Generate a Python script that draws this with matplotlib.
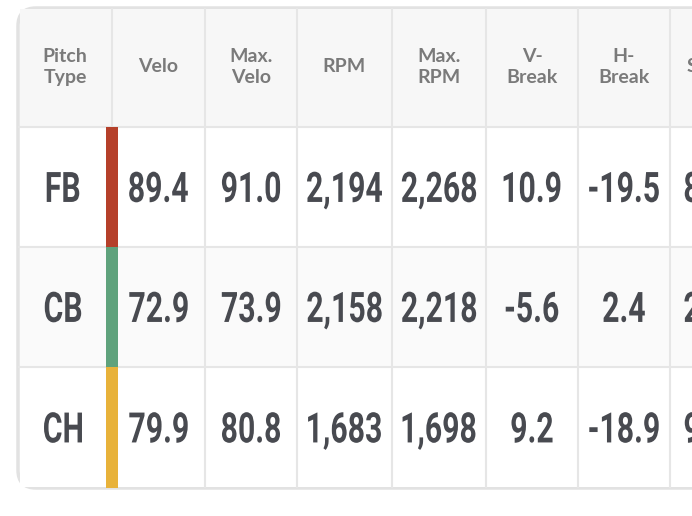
import matplotlib.pyplot as plt
from matplotlib.patches import FancyBboxPatch, Rectangle, PathPatch
from matplotlib.textpath import TextPath
from matplotlib.font_manager import FontProperties
from matplotlib.transforms import Affine2D

headers = ['Pitch\nType', 'Velo', 'Max.\nVelo', 'RPM', 'Max.\nRPM', 'V-\nBreak', 'H-\nBreak', 'S']
pitch_types = ['FB', 'CB', 'CH']
velo = ['89.4', '72.9', '79.9']
max_velo = ['91.0', '73.9', '80.8']
rpm = ['2,194', '2,158', '1,683']
max_rpm = ['2,268', '2,218', '1,698']
v_break = ['10.9', '-5.6', '9.2']
h_break = ['-19.5', '2.4', '-18.9']
cut_col = ['8', '2', '9']  # only the first glyph is visible at the edge
pitch_colors = ['#b5402a', '#5fa27c', '#e8b23a']

col_edges = [18, 112, 205, 297, 392, 486, 578, 670, 760]
row_edges = [8, 127, 247, 367, 488]
row_bg = ['#f7f7f7', '#ffffff', '#fafafa', '#ffffff']

fig = plt.figure(figsize=(6.92, 5.16), dpi=100)
ax = fig.add_axes([0, 0, 1, 1])
ax.set_xlim(0, 692)
ax.set_ylim(516, 0)
ax.axis('off')

num_prop = FontProperties(family='Roboto', weight='bold')


def condensed_text(cx, cy, s, size=42, stretch=0.72, color='#484a50'):
    # condensed look: draw the glyph outlines and squeeze them horizontally
    path = TextPath((0, 0), s, size=size, prop=num_prop)
    ext = path.get_extents()
    ref = TextPath((0, 0), '8', size=size, prop=num_prop).get_extents()
    tr = (Affine2D().translate(-(ext.x0 + ext.x1) / 2, -(ref.y0 + ref.y1) / 2)
          .scale(stretch, -1).translate(cx, cy))
    ax.add_patch(PathPatch(tr.transform_path(path), facecolor=color, edgecolor='none', zorder=3))


# outer frame with rounded corner
ax.add_patch(FancyBboxPatch((18, 8), 740, 480, boxstyle='round,pad=0,rounding_size=18',
                            facecolor='white', edgecolor='#e2e2e2', linewidth=2.5, zorder=0))
for i, bg in enumerate(row_bg):
    ax.add_patch(Rectangle((20, row_edges[i] + 1), 740, row_edges[i + 1] - row_edges[i] - 2,
                           facecolor=bg, edgecolor='none', zorder=1))
for y in row_edges[1:-1]:
    ax.plot([19, 692], [y, y], color='#e6e6e6', lw=1.5, zorder=2)
for x in col_edges[1:-1]:
    ax.plot([x, x], [9, 487], color='#e6e6e6', lw=1.5, zorder=2)

centers = [(col_edges[i] + col_edges[i + 1]) / 2 for i in range(len(col_edges) - 1)]
centers[0] = 65
centers[-1] = 692
for cx, h in zip(centers, headers):
    ax.text(cx, 67, h, ha='center', va='center', fontsize=14, color='#7a7a7a',
            family=['Lato', 'DejaVu Sans'], fontweight='bold', linespacing=1.25,
            clip_on=True, zorder=3)

columns = [pitch_types, velo, max_velo, rpm, max_rpm, v_break, h_break, cut_col]
for r in range(3):
    cy = (row_edges[r + 1] + row_edges[r + 2]) / 2
    ax.add_patch(Rectangle((106, row_edges[r + 1]), 12, row_edges[r + 2] - row_edges[r + 1],
                           facecolor=pitch_colors[r], edgecolor='none', zorder=3))
    for c, col in enumerate(columns):
        x = centers[c] if c else 63
        if c == len(columns) - 1:
            x = 692
        condensed_text(x, cy, col[r])

fig.savefig('out.png', dpi=100)
